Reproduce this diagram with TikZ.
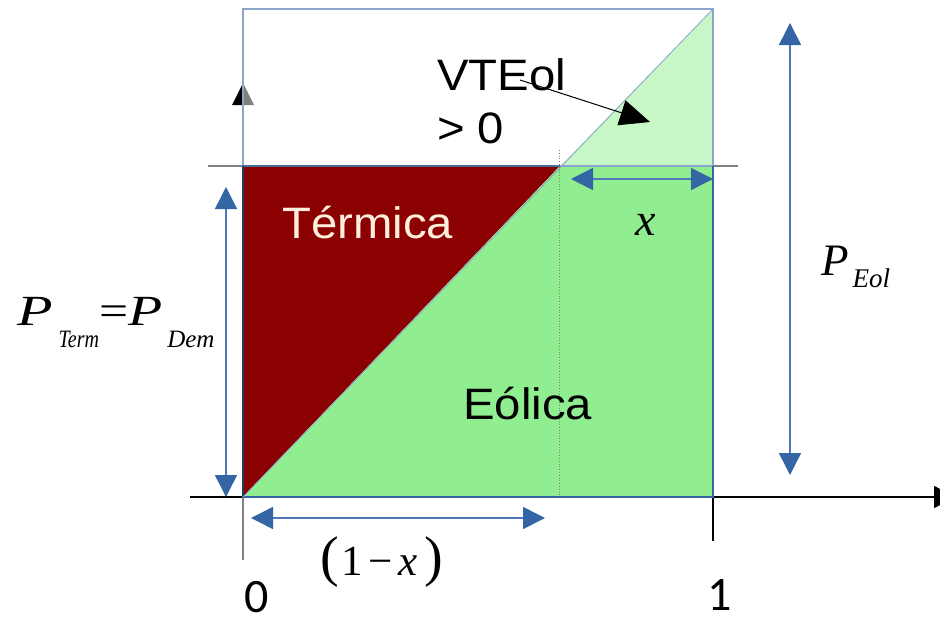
\documentclass[tikz,border=0pt]{standalone}
\usepackage{fontspec}
\usepackage{graphicx}
\setmainfont{Liberation Sans}
\newfontfamily\mathserif{Liberation Serif}
\newfontfamily\numfont{Carlito}
\usetikzlibrary{arrows.meta}
\definecolor{termred}{HTML}{8B0000}
\definecolor{eolgreen}{HTML}{90EE90}
\definecolor{palegreen}{RGB}{199,246,199}
\definecolor{edgeblue}{HTML}{3465A4}
\definecolor{lightblue}{RGB}{140,165,205}
\definecolor{arrline}{RGB}{80,120,185}
\definecolor{cream}{RGB}{255,238,220}
\definecolor{axisgray}{RGB}{128,128,128}
\newcommand{\wide}[1]{\scalebox{1.075}[1]{#1}}
\tikzset{
  dimarrow/.style={draw=arrline, line width=1.5pt,
    {Triangle[length=22pt,width=22pt,color=edgeblue]}-{Triangle[length=22pt,width=22pt,color=edgeblue]}},
  bigtext/.style={font=\fontsize{44}{53}\selectfont, inner sep=0pt, anchor=base west},
  numtext/.style={font=\numfont\fontsize{48}{48}\selectfont, inner sep=0pt, anchor=base west, text depth=0pt},
  mathtext/.style={font=\mathserif, inner sep=0pt, anchor=base west},
}
\begin{document}
\begin{tikzpicture}[x=1pt,y=-1pt]
\useasboundingbox (0,0) rectangle (940,624);
% regions
\fill[termred] (243,166) -- (560,166) -- (243,497) -- cycle;
\fill[eolgreen] (243,497) -- (560,166) -- (713,166) -- (713,497) -- cycle;
\fill[palegreen] (560,166) -- (713,9) -- (713,166) -- cycle;
% axes
\coordinate (xa0) at (190,497);
\coordinate (xa1) at (956,497);
\draw[black, line width=1.2pt, -{Triangle[length=22pt,width=22pt]}] (xa0) -- (xa1);
\coordinate (tk0) at (713,497);
\coordinate (tk1) at (713,541);
\draw[black, line width=1.2pt] (tk0) -- (tk1);
\coordinate (ya0) at (243,560);
\coordinate (ya1) at (243,105);
\draw[axisgray, line width=1.5pt] (ya0) -- (ya1);
\fill[black] (243,83) -- (232,105) -- (243,105) -- cycle;
\fill[axisgray] (243,83) -- (254,105) -- (243,105) -- cycle;
% outlines
\draw[lightblue, line width=1.2pt] (243,166) -- (243,9) -- (713,9) -- (713,166);
\draw[axisgray, line width=1.2pt] (208,166) -- (738,166);
\draw[edgeblue!70!gray, line width=1.2pt] (243,166) -- (560,166);
\draw[lightblue, line width=1.2pt] (560,166) -- (713,166);
\draw[edgeblue, line width=1.2pt] (713,166) -- (713,497) -- (243,497);
\draw[edgeblue!60!black, line width=1.2pt] (243,166) -- (243,497);
\draw[lightblue, line width=0.8pt] (243,497) -- (713,9);
\draw[axisgray, dotted, line width=0.8pt] (559,150) -- (559,497);
% dimension arrows
\coordinate (la0) at (226,187);
\coordinate (la1) at (226,497);
\draw[dimarrow] (la0) -- (la1);
\coordinate (ba0) at (251,518);
\coordinate (ba1) at (545,518);
\draw[dimarrow] (ba0) -- (ba1);
\coordinate (ta0) at (571,179);
\coordinate (ta1) at (713,179);
\draw[dimarrow] (ta0) -- (ta1);
\coordinate (ra0) at (790,23);
\coordinate (ra1) at (790,475);
\draw[dimarrow] (ra0) -- (ra1);
% texts
\node[bigtext] (vteolA) at (437,90) {\wide{VTEol}};
\node[bigtext] (vteolB) at (437,143) {\wide{> 0}};
\coordinate (vt0) at (520,80);
\coordinate (vt1) at (650,122);
\draw[black, line width=1pt, -{Triangle[length=30pt,width=26pt]}] (vt0) -- (vt1);
\node[bigtext, text=cream] (term) at (282,238) {\wide{Térmica}};
\node[bigtext] (eol) at (463,419) {\wide{Eólica}};
\node[numtext] (zero) at (244,612) {0};
\node[numtext] (one) at (707,610) {1};
\node[mathtext] (xlab) at (635,235) {\fontsize{46}{46}\selectfont\itshape x};
\node[mathtext] (onemx) at (320,575) {\fontsize{56}{56}\selectfont(\hspace{3pt}\fontsize{43}{43}\selectfont 1\hspace{5pt}−\hspace{6pt}\itshape x\hspace{7pt}\upshape\fontsize{56}{56}\selectfont)};
\node[mathtext] (peol) at (821,275) {\fontsize{45}{45}\selectfont\itshape P\hspace{4pt}\raisebox{-12pt}{\fontsize{27}{27}\selectfont Eol}};
\node[mathtext] (pterm) at (17,325) {\fontsize{43}{43}\selectfont\itshape\scalebox{1.35}[1]{P}\hspace{6pt}\raisebox{-22pt}{\fontsize{25}{25}\selectfont\scalebox{0.8}[1]{Term}}\upshape\scalebox{1.2}[1]{=}\itshape\scalebox{1.3}[1]{P}\hspace{5pt}\raisebox{-22pt}{\fontsize{25}{25}\selectfont Dem}};
\end{tikzpicture}
\end{document}
